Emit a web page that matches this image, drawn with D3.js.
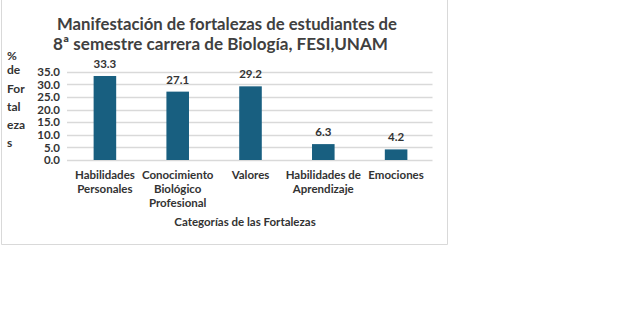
<!DOCTYPE html>
<html>
<head>
<meta charset="utf-8">
<script src="https://cdn.jsdelivr.net/npm/d3@7"></script>
<style>
  body { margin: 0; background: #fff; }
  svg { display: block; }
  text { font-family: Lato, "Open Sans", sans-serif; font-weight: bold; }
</style>
</head>
<body>
<div id="chart"></div>
<script>
// values
const categorias = [
  ["Habilidades", "Personales"],
  ["Conocimiento", "Biológico", "Profesional"],
  ["Valores"],
  ["Habilidades de", "Aprendizaje"],
  ["Emociones"]
];
const porcentajes = [33.3, 27.1, 29.2, 6.3, 4.2];
const yTicks = [0, 5, 10, 15, 20, 25, 30, 35];
const titulo = ["Manifestación de fortalezas de estudiantes de", "8ª semestre carrera de Biología, FESI,UNAM"];
const tituloY = ["%", "de", "For", "tal", "eza", "s"];
const tituloX = "Categorías de  las Fortalezas";

const width = 641, height = 320;
const svg = d3.select("#chart").append("svg")
    .attr("width", width)
    .attr("height", height);

// chart frame (no top edge)
svg.append("path")
    .attr("d", "M1.5,0 V244.5 H447.5 V0")
    .attr("fill", "none")
    .attr("stroke", "#d9d9d9")
    .attr("stroke-width", 1);

const x = d3.scaleBand()
    .domain(d3.range(porcentajes.length))
    .range([68.5, 432.5])
    .paddingInner(0.69)
    .paddingOuter(0.345);

const y = d3.scaleLinear()
    .domain([0, 35])
    .range([160, 71.7]);

// gridlines
svg.append("g")
    .selectAll("line")
    .data(yTicks)
    .join("line")
    .attr("x1", 67)
    .attr("x2", 432.5)
    .attr("y1", d => Math.round(y(d)) + 0.5)
    .attr("y2", d => Math.round(y(d)) + 0.5)
    .attr("stroke", "#d9d9d9")
    .attr("stroke-width", 1.3);

// y axis labels
const yAxis = svg.append("g")
    .attr("transform", "translate(60,0)")
    .call(d3.axisLeft(y).tickValues(yTicks).tickFormat(d3.format(".1f")).tickSize(0).tickPadding(0));
yAxis.select(".domain").remove();
yAxis.selectAll("text")
    .attr("font-family", "Lato, sans-serif")
    .attr("font-size", 11.5)
    .attr("fill", "#333");

// bars
svg.append("g")
    .selectAll("rect")
    .data(porcentajes)
    .join("rect")
    .attr("x", (d, i) => x(i))
    .attr("y", d => y(d))
    .attr("width", x.bandwidth())
    .attr("height", d => y(0) - y(d))
    .attr("fill", "#185f80");

// data labels
svg.append("g")
    .selectAll("text")
    .data(porcentajes)
    .join("text")
    .attr("x", (d, i) => x(i) + x.bandwidth() / 2)
    .attr("y", d => y(d) - 8)
    .attr("text-anchor", "middle")
    .attr("font-size", 11.5)
    .attr("fill", "#333")
    .text(d => d.toFixed(1));

// category labels
const cat = svg.append("g")
    .selectAll("text")
    .data(categorias)
    .join("text")
    .attr("text-anchor", "middle")
    .attr("font-size", 11.5)
    .attr("fill", "#333");
cat.selectAll("tspan")
    .data((d, i) => d.map(t => ({t, i})))
    .join("tspan")
    .attr("x", d => x(d.i) + x.bandwidth() / 2)
    .attr("y", (d, j) => 179 + j * 14)
    .text(d => d.t);

// x axis title
svg.append("text")
    .attr("x", 245)
    .attr("y", 226)
    .attr("text-anchor", "middle")
    .attr("font-size", 11.5)
    .attr("fill", "#333")
    .text(tituloX);

// y axis title, one piece per line
const yTitleBase = [60, 74, 92.5, 111, 129, 147];
svg.append("g")
    .selectAll("text")
    .data(tituloY)
    .join("text")
    .attr("x", 7)
    .attr("y", (d, i) => yTitleBase[i])
    .attr("font-size", 12)
    .attr("fill", "#333")
    .text(d => d);

// title
svg.append("g")
    .selectAll("text")
    .data(titulo)
    .join("text")
    .attr("x", (d, i) => i === 0 ? 57 : 53)
    .attr("y", (d, i) => 30 + i * 20)
    .attr("font-size", 17.5)
    .attr("textLength", (d, i) => i === 0 ? 340 : 335)
    .attr("lengthAdjust", "spacingAndGlyphs")
    .attr("fill", "#404040")
    .text(d => d);
</script>
</body>
</html>
